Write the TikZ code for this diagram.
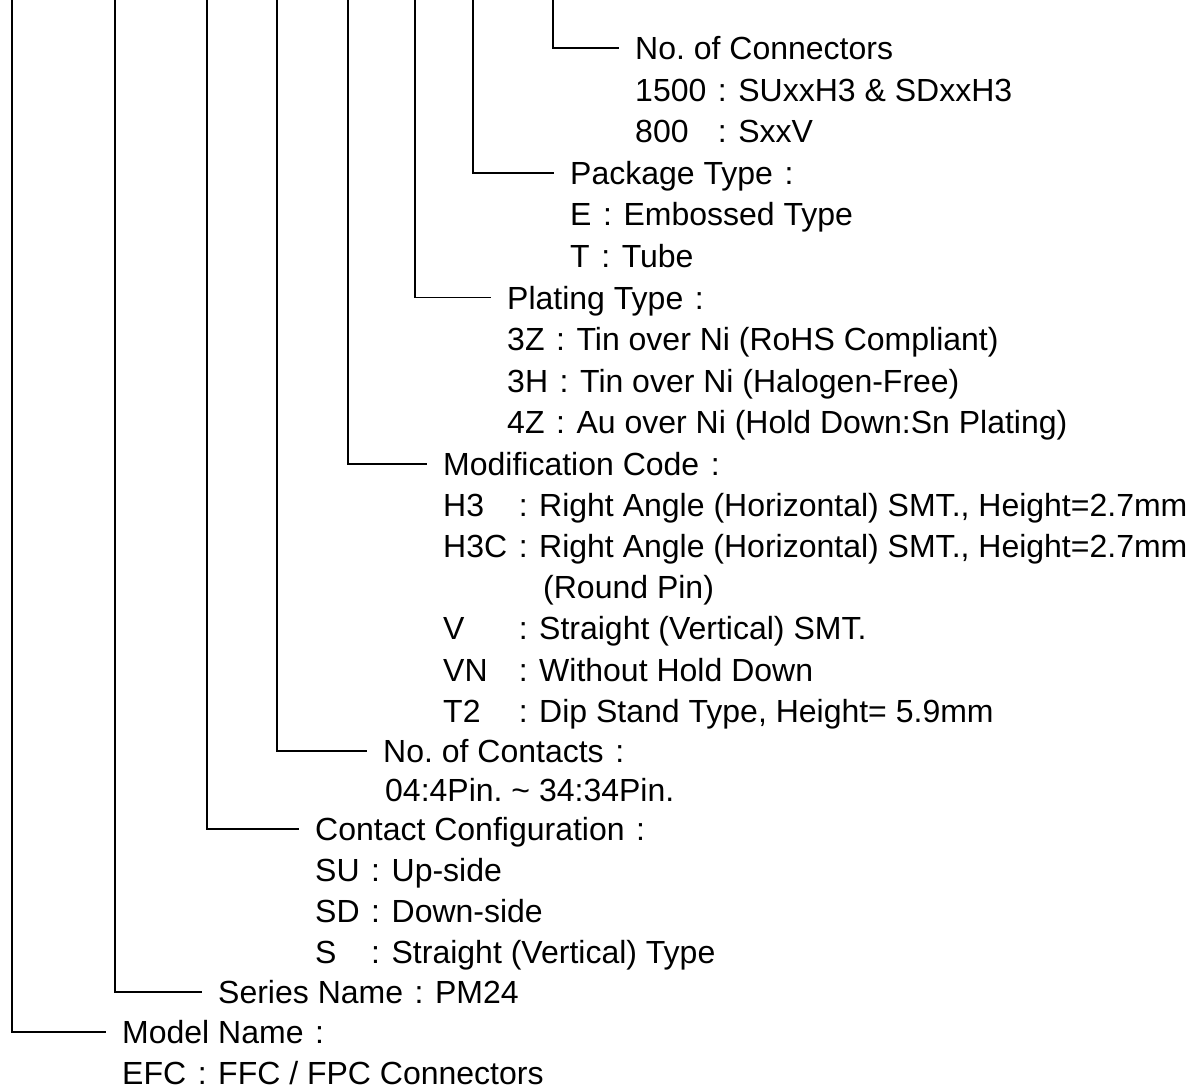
\documentclass[tikz,border=0pt]{standalone}
\usepackage{fontspec}
\usepackage{calc}
\setmainfont{Liberation Sans}
\frenchspacing
\newcommand\fc{\makebox[1em][c]{:}}
\newcommand\lab[2]{\makebox[\widthof{#1}][l]{#2}}
\tikzset{
  conn/.style={line width=1.6pt},
  txt/.style={anchor=west, inner sep=0pt, text height=23pt, text depth=0pt,
     font=\fontsize{32pt}{40pt}\selectfont},
  head/.style={txt, inner xsep=16pt},
}
\begin{document}
\begin{tikzpicture}[x=1pt,y=1pt]
\useasboundingbox (0,0) rectangle (1198,-1089);
% block 8
\coordinate (t8) at (553,0);
\node[head] (h8) at (619,-48) {No. of Connectors};
\node[txt] (b8a) at (635,-89.6) {1500\fc SUxxH3 \& SDxxH3};
\node[txt] (b8b) at (635,-131.2) {\lab{1500}{800}\fc SxxV};
\draw[conn] (t8) |- (h8.west);
% block 7
\coordinate (t7) at (473,0);
\node[head] (h7) at (554,-172.8) {Package Type\fc};
\node[txt] (b7a) at (570,-214.4) {E\fc Embossed Type};
\node[txt] (b7b) at (570,-256) {T\fc Tube};
\draw[conn] (t7) |- (h7.west);
% block 6
\coordinate (t6) at (415,0);
\node[head] (h6) at (491,-297.6) {Plating Type\fc};
\node[txt] (b6a) at (507,-339.2) {3Z\fc Tin over Ni (RoHS Compliant)};
\node[txt] (b6b) at (507,-380.8) {3H\fc Tin over Ni (Halogen-Free)};
\node[txt] (b6c) at (507,-422.4) {4Z\fc Au over Ni (Hold Down:Sn Plating)};
\draw[conn] (t6) |- (h6.west);
% block 5
\coordinate (t5) at (348,0);
\node[head] (h5) at (427,-464) {Modification Code\fc};
\node[txt] (b5a) at (443,-505.1) {\lab{H3C}{H3}\fc Right Angle (Horizontal) SMT., Height=2.7mm};
\node[txt] (b5b) at (443,-546.2) {H3C\fc Right Angle (Horizontal) SMT., Height=2.7mm};
\node[txt] (b5c) at (443,-587.3) {\phantom{H3C\fc}\hspace{4pt}(Round Pin)};
\node[txt] (b5d) at (443,-628.4) {\lab{H3C}{V}\fc Straight (Vertical) SMT.};
\node[txt] (b5e) at (443,-669.5) {\lab{H3C}{VN}\fc Without Hold Down};
\node[txt] (b5f) at (443,-710.6) {\lab{H3C}{T2}\fc Dip Stand Type, Height= 5.9mm};
\draw[conn] (t5) |- (h5.west);
% block 4
\coordinate (t4) at (277,0);
\node[head] (h4) at (367,-751) {No. of Contacts\fc};
\node[txt] (b4a) at (385,-790) {04:4Pin. \textasciitilde{} 34:34Pin.};
\draw[conn] (t4) |- (h4.west);
% block 3
\coordinate (t3) at (207,0);
\node[head] (h3) at (299,-829) {Contact Configuration\fc};
\node[txt] (b3a) at (315,-870) {SU\fc Up-side};
\node[txt] (b3b) at (315,-911) {SD\fc Down-side};
\node[txt] (b3c) at (315,-952) {\lab{SD}{S}\fc Straight (Vertical) Type};
\draw[conn] (t3) |- (h3.west);
% block 2
\coordinate (t2) at (115,0);
\node[head] (h2) at (202,-992) {Series Name\fc PM24};
\draw[conn] (t2) |- (h2.west);
% block 1
\coordinate (t1) at (12,0);
\node[head] (h1) at (106,-1032) {Model Name\fc};
\node[txt] (b1a) at (122,-1073) {EFC\fc FFC / FPC Connectors};
\draw[conn] (t1) |- (h1.west);
\end{tikzpicture}
\end{document}
